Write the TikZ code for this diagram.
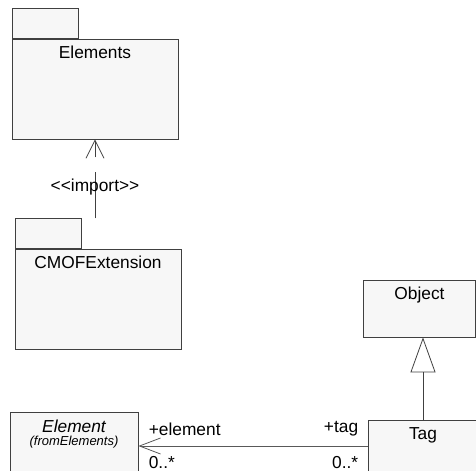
\documentclass[tikz,border=0pt]{standalone}
\usepackage{fontspec}
\setmainfont{Liberation Sans}
\usetikzlibrary{positioning, arrows.meta}

\begin{document}
\begin{tikzpicture}[x=0.75pt, y=-0.75pt, line width=0.6pt,
    font=\fontsize{13}{15}\selectfont,
    box/.style={draw=black!75, fill=black!3, inner sep=0pt},
    pkg/.style={box, minimum width=124.5pt, minimum height=75pt},
    pkgtab/.style={box, minimum width=49.5pt, minimum height=22pt},
    role/.style={inner sep=0pt},
    dep/.style={draw=black!75, dash pattern=on 34.5pt off 11.25pt on 30pt off 1pt,
        -{Straight Barb[length=13.5pt, width=13.5pt]}},
    gen/.style={draw=black!75, -{Triangle[open, length=26.25pt, width=18.75pt]}},
    assoc/.style={draw=black!65, -{Straight Barb[length=15.75pt, width=12pt]}}]
    \useasboundingbox (0,0) rectangle (476,471);

    % packages
    \node[pkg] (Elements) at (95,89) {};
    \node[pkgtab] (ElementsTab) [above right=0pt and 0pt of Elements.north west] {};
    \node (ElementsTitle) at ([yshift=-10.5pt]Elements.north) {Elements};

    \node[pkg] (CMOF) at (98,299) {};
    \node[pkgtab] (CMOFTab) [above right=0pt and 0pt of CMOF.north west] {};
    \node (CMOFTitle) at ([yshift=-10.5pt]CMOF.north) {CMOFExtension};

    \coordinate (importStart) at (CMOFTab.north -| Elements.south);
    \draw[dep] (importStart) -- node[pos=0.4] {<\kern0pt<import>\kern0pt>} (Elements.south);

    % classes
    \node[box, minimum width=84pt, minimum height=42.75pt] (Object) at (419.5,308.5) {};
    \node (ObjectTitle) at ([yshift=-11.25pt]Object.north) {Object};

    \node[box, minimum width=82.5pt, minimum height=39pt] (Tag) at (423,446) {};
    \node (TagTitle) at ([yshift=-12pt]Tag.north) {Tag};

    \node[box, minimum width=96pt, minimum height=51pt] (Element) at (74,446) {};
    \node (ElementTitle) at ([yshift=-11.25pt]Element.north) {\itshape Element};
    \node (ElementFrom) at ([yshift=-23.25pt]Element.north)
        {\fontsize{9.75}{11}\selectfont\itshape (fromElements)};

    \draw[gen] (Tag.north) -- (Tag.north |- Object.south);
    \draw[assoc] (Tag.west) -- (Element.east);

    \node[role, anchor=west] (elementRole) at ([xshift=7.5pt, yshift=12.75pt]Element.east) {+element};
    \node[role, anchor=west] (elementMult) at ([xshift=7.5pt, yshift=-12.5pt]Element.east) {0..*};
    \node[role, anchor=east] (tagRole) at ([xshift=-6.75pt, yshift=12.75pt]Tag.west) {+tag};
    \node[role, anchor=east] (tagMult) at ([xshift=-6.75pt, yshift=-12.5pt]Tag.west) {0..*};
\end{tikzpicture}
\end{document}
